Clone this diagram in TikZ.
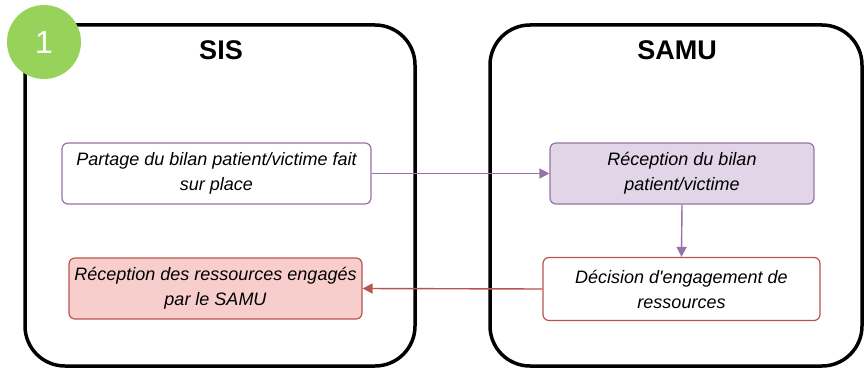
\documentclass[tikz,border=0pt]{standalone}
\usepackage{fontspec}
\setmainfont{Liberation Sans}
% plain family without TeX ligatures, so ' stays a straight apostrophe
\newfontfamily\labelfont{Liberation Sans}
\usetikzlibrary{arrows.meta}
\definecolor{purpleline}{HTML}{9673A6}
\definecolor{purplefill}{HTML}{E1D5E7}
\definecolor{redline}{HTML}{B85450}
\definecolor{redfill}{HTML}{F8CECC}
\definecolor{badge}{HTML}{97D35A}
\begin{document}
\begin{tikzpicture}[x=1pt,y=-1pt,
  lane/.style={draw=black,line width=3.5pt,rounded corners=40pt},
  title/.style={font=\fontsize{27}{30}\selectfont\bfseries},
  stepbox/.style={rounded corners=6pt,line width=1.2pt,align=center,
    font=\labelfont\fontsize{18}{25}\selectfont\itshape,inner sep=0pt},
  flow/.style={line width=1.4pt,-{Triangle[length=10pt,width=10pt]}}
]
\useasboundingbox (0,0) rectangle (865,369);
% swimlanes
\draw[lane] (25,25) rectangle (415,366);
\draw[lane] (490,25) rectangle (862,366);
\node[title] (sis) at (221,50) {SIS};
\node[title] (samu) at (677,50) {SAMU};
% step number badge
\node[circle,fill=badge,minimum size=74pt,inner sep=0pt,text=white,
  font=\fontsize{32}{36}\selectfont] (badge) at (44,42) {1};
% process steps
\node[stepbox,draw=purpleline,fill=white,minimum width=309pt,minimum height=61pt]
  (partage) at (216.5,173.5) {Partage du bilan patient/victime fait\\sur place};
\node[stepbox,draw=purpleline,fill=purplefill,minimum width=264pt,minimum height=61pt]
  (recbilan) at (682,173.5) {Réception du bilan\\patient/victime};
\node[stepbox,draw=redline,fill=white,minimum width=277pt,minimum height=63pt]
  (decision) at (681.5,289) {Décision d'engagement de\\ressources};
\node[stepbox,draw=redline,fill=redfill,minimum width=293pt,minimum height=61pt]
  (recres) at (215.5,288.5) {Réception des ressources engagés\\par le SAMU};
% connectors
\draw[flow,draw=purpleline,fill=purpleline] (partage.east) -- (recbilan.west);
\draw[flow,draw=purpleline,fill=purpleline] (recbilan.south) -- (decision.north);
\draw[flow,draw=redline,fill=redline] (decision.west) -- (recres.east);
\end{tikzpicture}
\end{document}
